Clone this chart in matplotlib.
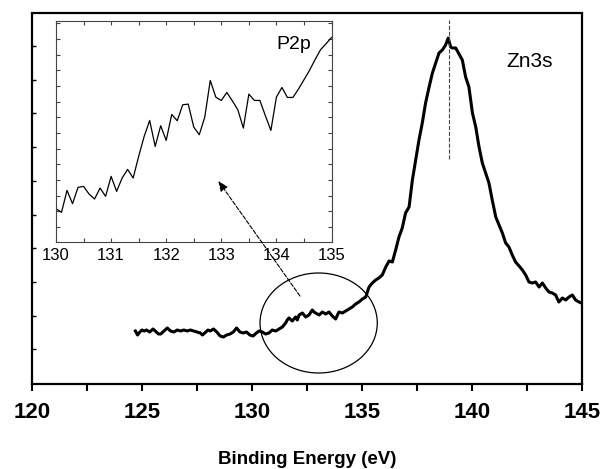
import matplotlib
matplotlib.use('Agg')
import matplotlib.pyplot as plt
from matplotlib.patches import Ellipse
import numpy as np

plt.rcParams['font.family'] = ['Liberation Sans', 'DejaVu Sans']

# main spectrum: Zn3s region (arbitrary intensity)
energy = [124.7, 124.8, 124.9, 125.0, 125.1, 125.2, 125.35, 125.5, 125.6, 125.75,
          125.85, 126.0, 126.15, 126.3, 126.45, 126.6, 126.75, 126.9, 127.05, 127.2,
          127.35, 127.5, 127.65, 127.75, 127.85, 128.0, 128.1, 128.25, 128.4, 128.55,
          128.7, 128.85, 129.0, 129.15, 129.3, 129.45, 129.6, 129.75, 129.9, 130.05,
          130.2, 130.32, 130.47, 130.62, 130.77, 130.92, 131.08, 131.23, 131.38, 131.53,
          131.6, 131.68, 131.83, 131.98, 132.06, 132.14, 132.29, 132.44, 132.59, 132.74,
          132.82, 132.89, 133.05, 133.2, 133.35, 133.5, 133.65, 133.8, 133.95, 134.11,
          134.26, 134.41, 134.56, 134.71, 134.86, 135.02, 135.17, 135.32, 135.47, 135.62,
          135.77, 135.92, 136.08, 136.23, 136.38, 136.53, 136.68, 136.83, 136.98, 137.14,
          137.29, 137.44, 137.59, 137.74, 137.89, 138.05, 138.2, 138.35, 138.5, 138.65,
          138.8, 138.92, 139.03, 139.11, 139.26, 139.41, 139.56, 139.71, 139.86, 140.02,
          140.17, 140.32, 140.47, 140.62, 140.77, 140.92, 141.08, 141.23, 141.38, 141.53,
          141.68, 141.83, 141.98, 142.14, 142.29, 142.44, 142.59, 142.74, 142.89, 143.05,
          143.2, 143.35, 143.5, 143.65, 143.8, 143.95, 144.11, 144.26, 144.41, 144.56,
          144.71, 144.86, 144.97]
intensity = [52, 48, 51, 53, 52, 53, 51, 54, 52, 49,
             49, 52, 55, 52, 51, 53, 52, 53, 52, 53,
             52, 51, 50, 48, 50, 53, 52, 54, 51, 47,
             46, 48, 49, 51, 55, 51, 50, 51, 48, 47,
             50, 52, 51, 49, 50, 53, 52, 54, 56, 60,
             63, 65, 62, 66, 63, 68, 70, 66, 68, 73,
             71, 70, 68, 71, 69, 71, 67, 64, 71, 70,
             72, 74, 76, 79, 81, 84, 86, 96, 100, 103,
             105, 108, 116, 122, 121, 133, 146, 155, 170, 176,
             203, 223, 243, 260, 280, 296, 310, 320, 330, 333,
             338, 345, 336, 335, 335, 329, 323, 306, 296, 270,
             256, 236, 220, 210, 200, 183, 166, 158, 150, 140,
             136, 128, 121, 117, 113, 108, 101, 100, 101, 96,
             100, 95, 91, 90, 88, 81, 85, 83, 86, 88,
             83, 81, 80]

# inset: P2p region
inset_energy = [130.0, 130.1, 130.2, 130.3, 130.4, 130.5, 130.6, 130.7, 130.8, 130.9,
                131.0, 131.1, 131.2, 131.3, 131.4, 131.5, 131.6, 131.7, 131.8, 131.9,
                132.0, 132.1, 132.2, 132.3, 132.4, 132.5, 132.6, 132.7, 132.8, 132.9,
                133.0, 133.1, 133.2, 133.3, 133.4, 133.5, 133.6, 133.7, 133.8, 133.9,
                134.0, 134.1, 134.2, 134.3, 134.4, 134.5, 134.6, 134.7, 134.8, 134.9,
                135.0]
inset_intensity = [100, 89, 155, 115, 164, 167, 144, 129, 162, 137,
                   197, 152, 192, 218, 192, 257, 317, 365, 287, 349,
                   305, 383, 364, 412, 414, 345, 322, 375, 485, 435,
                   425, 449, 424, 397, 342, 444, 425, 425, 379, 335,
                   435, 464, 434, 434, 459, 487, 515, 547, 577, 595,
                   614]

main_ticks = [120, 125, 130, 135, 140, 145]
inset_ticks = [130, 131, 132, 133, 134, 135]

fig = plt.figure(figsize=(6.03, 4.69), dpi=100)
ax = fig.add_axes([32 / 603, 85 / 469, 550 / 603, 370.5 / 469])
ax.plot(energy, intensity, color='black', lw=2.2)
ax.set_xlim(120, 145)
ax.set_ylim(-1, 369.5)
ax.set_xticks(main_ticks)
ax.set_xticks(np.arange(122.5, 145, 5), minor=True)
ax.tick_params(axis='x', which='both', direction='out', length=5, width=1.5,
               pad=8, labelsize=16)
for lbl in ax.get_xticklabels():
    lbl.set_fontweight('bold')
ax.set_yticks(np.arange(33.7, 360, 33.7))
ax.set_yticklabels([])
ax.tick_params(axis='y', direction='in', length=3, width=1)
for s in ax.spines.values():
    s.set_linewidth(1.6)
ax.set_xlabel('Binding Energy (eV)', fontsize=13.5, fontweight='bold', labelpad=20)

ax.plot([138.95, 138.95], [224, 363], ls='--', color='#444444', lw=0.8)
ax.add_patch(Ellipse((133.03, 60), 5.33, 100, fill=False, lw=0.9, color='black'))
ax.text(142.6, 322, 'Zn3s', fontsize=15, ha='center', va='center')

ins = fig.add_axes([56 / 603, 227 / 469, 275.5 / 603, 220.5 / 469])
ins.plot(inset_energy, inset_intensity, color='black', lw=0.9)
ins.set_xlim(130, 135)
ins.set_ylim(0, 662)
ins.set_xticks(inset_ticks)
ins.set_xticks(np.arange(130.5, 135, 1), minor=True)
ins.set_yticks(np.arange(45, 662, 47))
ins.set_yticklabels([])
ins.tick_params(which='both', direction='in', top=True, right=True, length=3,
                color='#444444', width=0.8, labelsize=12, pad=4)
for s in ins.spines.values():
    s.set_linewidth(0.8)
    s.set_color('#444444')
ins.text(134.32, 594, 'P2p', fontsize=14, ha='center', va='center')

ins.annotate('', xy=(128.47, 202), xycoords=ax.transData,
             xytext=(132.18, 87), textcoords=ax.transData,
             arrowprops=dict(arrowstyle='-|>,head_length=0.6,head_width=0.25',
                             linestyle='--', color='black', lw=0.8,
                             shrinkA=0, shrinkB=0),
             annotation_clip=False)

fig.savefig('out.png', dpi=100)
